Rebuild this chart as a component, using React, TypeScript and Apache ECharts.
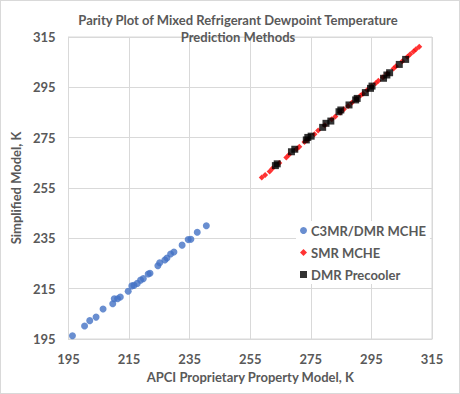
import React, { useEffect, useRef } from "react";
import * as echarts from "echarts";

const TITLE = "Parity Plot of Mixed Refrigerant Dewpoint Temperature\nPrediction Methods";
const X_NAME = "APCI Proprietary Property Model, K";
const Y_NAME = "Simplified Model, K";
const SERIES_NAMES = ["C3MR/DMR MCHE", "SMR MCHE", "DMR Precooler"];

const c3mrX = [196.3, 200.3, 202.0, 204.1, 206.4, 209.6, 210.1, 211.2, 212.1, 214.7, 215.9, 216.6, 217.7, 218.8, 219.7, 221.3, 221.9, 224.5, 225.1, 226.8, 227.5, 228.7, 229.8, 232.5, 234.5, 235.4, 237.5, 240.5];
const c3mrY = [196.3, 200.2, 202.3, 203.7, 206.9, 209.0, 211.0, 211.0, 211.7, 214.0, 216.1, 216.3, 217.1, 218.4, 219.0, 220.8, 221.1, 224.1, 225.3, 226.4, 227.2, 228.8, 229.6, 232.3, 234.5, 234.6, 237.4, 240.0];

const smrX = [258.8, 259.9, 261.4, 262.3, 264.6, 266.9, 267.8, 270.3, 271.2, 272.9, 273.8, 276.2, 277.4, 279.6, 281.9, 283.1, 284.7, 285.9, 287.3, 288.6, 290.1, 291.4, 292.2, 293.6, 295.1, 296.4, 297.3, 298.8, 300.2, 302.3, 303.1, 305.2, 306.9, 307.8, 308.9, 309.7, 310.8];
const smrY = [259.2, 260.2, 261.6, 262.7, 264.9, 267.1, 268.2, 270.5, 271.4, 273.3, 274.1, 276.4, 277.8, 279.9, 282.3, 283.4, 285.0, 286.3, 287.6, 289.0, 290.5, 291.8, 292.5, 293.9, 295.4, 296.6, 297.6, 299.0, 300.4, 302.5, 303.4, 305.4, 307.2, 308.1, 309.2, 310.1, 311.1];

const dmrX = [263.3, 263.9, 268.6, 269.7, 273.5, 274.0, 275.1, 278.9, 280.0, 281.6, 284.3, 284.9, 287.6, 289.8, 290.3, 293.0, 294.7, 295.2, 299.0, 300.1, 301.0, 304.2, 306.3];
const dmrY = [263.9, 264.6, 269.4, 270.4, 274.1, 275.1, 275.6, 279.1, 280.7, 281.6, 285.3, 286.0, 288.0, 290.0, 290.6, 292.9, 294.6, 295.5, 298.6, 299.9, 300.8, 304.1, 306.1];

const AXIS_MIN = 195;
const AXIS_MAX = 315;
const AXIS_STEP = 20;

const pairs = (xs: number[], ys: number[]) => xs.map((x, i) => [x, ys[i]]);

const FONT = "Lato, 'Open Sans', sans-serif";
const GRAY = "#595959";
const GRID = "#d9d9d9";

export default function App() {
  const ref = useRef<HTMLDivElement>(null);
  useEffect(() => {
    if (!ref.current) return;
    const chart = echarts.init(ref.current, undefined, { renderer: "svg" });
    const axisCommon = {
      min: AXIS_MIN,
      max: AXIS_MAX,
      interval: AXIS_STEP,
      nameLocation: "middle" as const,
      nameTextStyle: { color: GRAY, fontFamily: FONT, fontWeight: "bold" as const, fontSize: 13 },
      axisLine: { show: true, lineStyle: { color: GRID, width: 1 } },
      axisTick: { show: false },
      splitLine: { show: true, lineStyle: { color: GRID, width: 1 } },
      axisLabel: { color: GRAY, fontFamily: FONT, fontWeight: "bold" as const, fontSize: 13 },
    };
    chart.setOption({
      animation: false,
      backgroundColor: "#ffffff",
      title: {
        text: TITLE,
        left: 232,
        top: 5,
        textAlign: "center",
        textStyle: { color: GRAY, fontFamily: FONT, fontWeight: "bold", fontSize: 13, lineHeight: 17 },
      },
      grid: { left: 63, right: 27, top: 36, bottom: 54, show: true, borderColor: GRID, borderWidth: 1 },
      xAxis: { ...axisCommon, type: "value", name: X_NAME, nameGap: 31, axisLabel: { ...axisCommon.axisLabel, margin: 13 } },
      yAxis: { ...axisCommon, type: "value", name: Y_NAME, nameGap: 41, axisLabel: { ...axisCommon.axisLabel, margin: 13 } },
      legend: {
        orient: "vertical",
        left: 295,
        top: 220,
        backgroundColor: "#ffffff",
        padding: [3, 4, 3, 4],
        itemWidth: 7,
        itemHeight: 7,
        itemGap: 9,
        textStyle: { color: GRAY, fontFamily: FONT, fontWeight: "bold", fontSize: 13, padding: [0, 0, 0, -1] },
        data: [
          { name: SERIES_NAMES[0], icon: "circle" },
          { name: SERIES_NAMES[1], icon: "diamond" },
          { name: SERIES_NAMES[2], icon: "rect" },
        ],
      },
      series: [
        {
          type: "scatter",
          name: SERIES_NAMES[0],
          data: pairs(c3mrX, c3mrY),
          symbol: "circle",
          symbolSize: 7,
          itemStyle: { color: "#4472C4" },
        },
        {
          type: "scatter",
          name: SERIES_NAMES[1],
          data: pairs(smrX, smrY),
          symbol: "diamond",
          symbolSize: 6,
          itemStyle: { color: "#FF0000" },
        },
        {
          type: "scatter",
          name: SERIES_NAMES[2],
          data: pairs(dmrX, dmrY),
          symbol: "rect",
          symbolSize: 7,
          itemStyle: { color: "#000000" },
        },
      ],
    });
    return () => chart.dispose();
  }, []);
  return (
    <div
      style={{
        position: "absolute",
        left: 0,
        top: 0,
        width: 460,
        height: 394,
        boxSizing: "border-box",
        border: "1px solid #d9d9d9",
        background: "#fff",
      }}
    >
      <div ref={ref} style={{ width: 458, height: 392 }} />
    </div>
  );
}
